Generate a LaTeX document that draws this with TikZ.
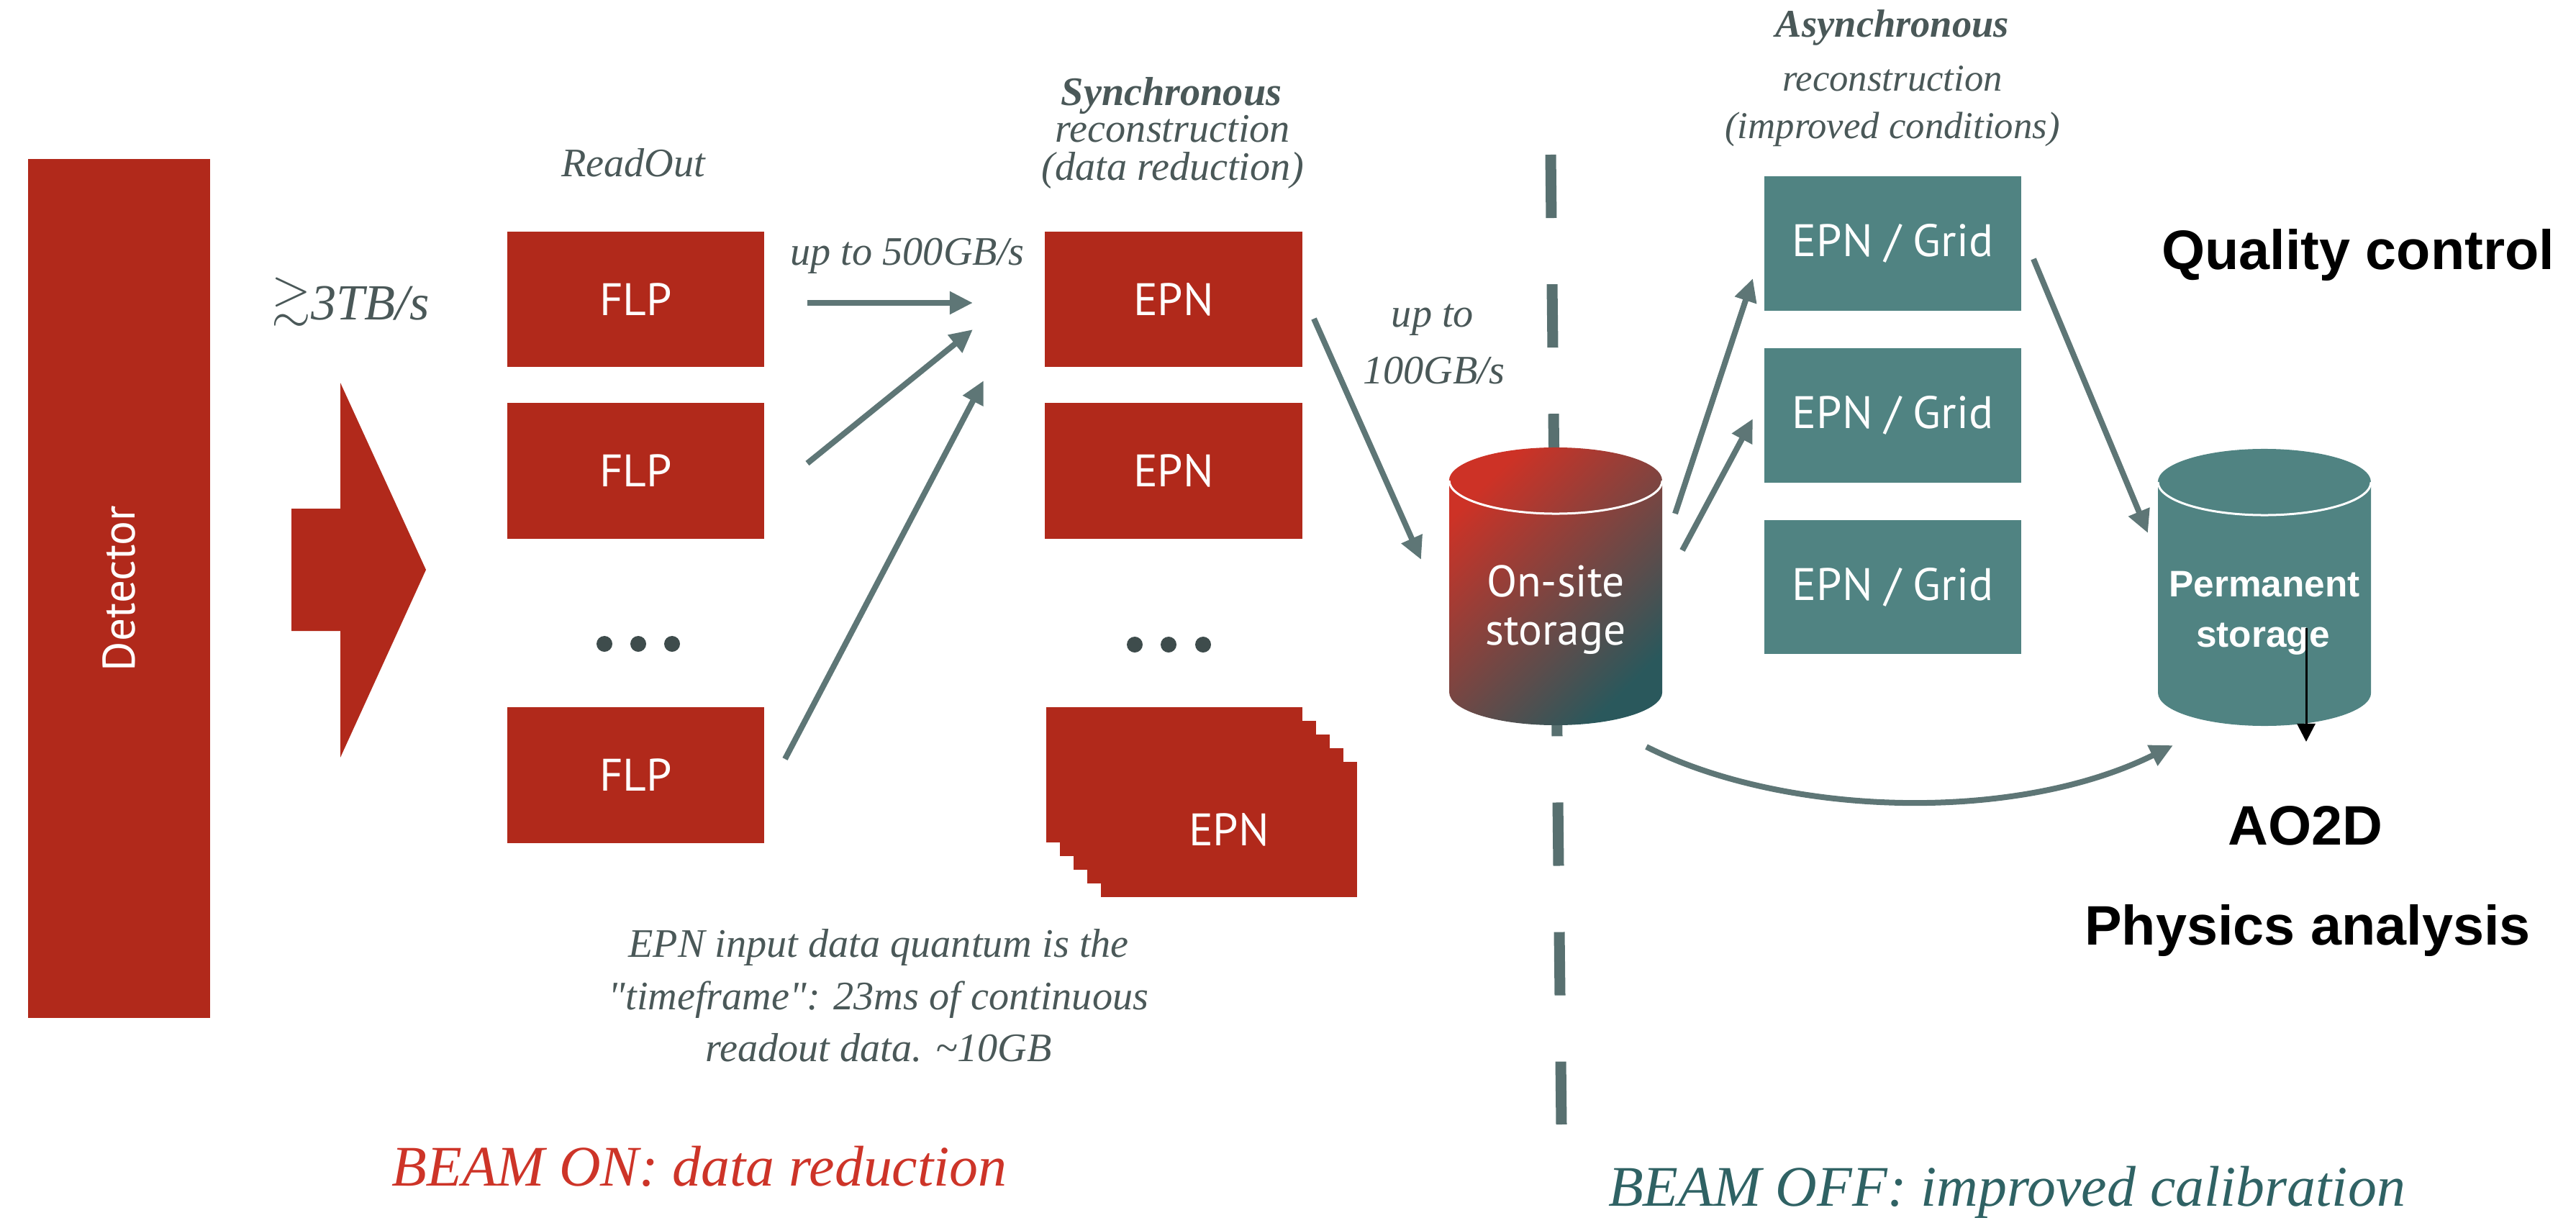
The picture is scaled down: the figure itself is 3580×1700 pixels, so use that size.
\documentclass[tikz,border=0pt]{standalone}
\usepackage{fontspec}
\usepackage{amssymb}
\setmainfont{Liberation Serif}
\newfontfamily\boxfont{PT Sans}
\newfontfamily\helv{Liberation Sans}
\usetikzlibrary{arrows.meta}
\definecolor{detred}{RGB}{177,41,27}
\definecolor{gridteal}{RGB}{80,131,130}
\definecolor{arrowgrey}{RGB}{94,118,118}
\definecolor{textgrey}{RGB}{74,88,88}
\definecolor{dotgrey}{RGB}{62,76,76}
\definecolor{dashgrey}{RGB}{88,112,112}
\definecolor{beamred}{RGB}{205,52,40}
\definecolor{beamteal}{RGB}{47,98,100}
\definecolor{cylred}{RGB}{205,50,38}
\definecolor{cylteal}{RGB}{42,88,92}
\begin{document}
\begin{tikzpicture}[x=0.01cm,y=-0.01cm,
  redbox/.style={fill=detred, draw=none, minimum width=3.57cm, minimum height=1.88cm, inner sep=0pt, text=white, font=\boxfont\fontsize{18}{20}\selectfont},
  tealbox/.style={fill=gridteal, draw=none, minimum width=3.57cm, minimum height=1.86cm, inner sep=0pt, text=white, font=\boxfont\fontsize{18}{20}\selectfont},
  boxlabel/.style={text=white, inner sep=0pt, font=\boxfont\fontsize{18}{20}\selectfont},
  flow/.style={draw=arrowgrey, line width=0.08cm, -{Triangle[length=0.32cm,width=0.3cm]}},
  note/.style={text=textgrey, inner sep=0pt, anchor=base, font=\itshape\fontsize{16}{19}\selectfont},
  anote/.style={text=textgrey, inner sep=0pt, anchor=base, font=\itshape\fontsize{15}{18}\selectfont},
  dotnode/.style={circle, fill=dotgrey, minimum size=0.22cm, inner sep=0pt},
  bigtext/.style={text=black, inner sep=0pt, anchor=base, font=\helv\bfseries\fontsize{22}{26}\selectfont},
  cyltext/.style={text=white, inner sep=0pt, anchor=base}
]
\useasboundingbox (0,0) rectangle (3580,1700);

% Detector
\node[fill=detred, minimum width=2.53cm, minimum height=11.94cm, inner sep=0pt] (det) at (165.5,818) {};
\node[boxlabel, rotate=90] (dettext) at (det.center) {Detector};

% big arrow
\fill[detred] (405,707) -- (473,707) -- (473,532) -- (592,792) -- (473,1053) -- (473,877) -- (405,877) -- cycle;
\node[text=textgrey, inner sep=0pt, font=\fontsize{20}{24}\selectfont] (rate) at (487,420) {\raisebox{2pt}{$\gtrsim$}\textit{3TB/s}};

% ReadOut column
\node[note] (readout) at (880,246) {ReadOut};
\node[redbox] (flp1) at (883.5,416) {FLP};
\node[redbox] (flp2) at (883.5,654.5) {FLP};
\node[dotnode] (fd1) at (840,895) {};
\node[dotnode] (fd2) at (887,895) {};
\node[dotnode] (fd3) at (934,895) {};
\node[redbox] (flp4) at (883.5,1077.5) {FLP};

% Synchronous column
\node[note, font=\itshape\bfseries\fontsize{16}{19}\selectfont] (sync) at (1628,147) {Synchronous};
\node[note] (sync2) at (1630,198) {reconstruction};
\node[note] (sync3) at (1630,251) {(data reduction)};
\node[redbox] (epn1) at (1631,416) {EPN};
\node[redbox] (epn2) at (1631,654.5) {EPN};
\node[dotnode] (ed1) at (1577,896) {};
\node[dotnode] (ed2) at (1624,896) {};
\node[dotnode] (ed3) at (1672,896) {};
\foreach \i in {0,...,4}
  \fill[detred] ({1454+19*\i},{983+19*\i}) rectangle ++(356,188);
\node[boxlabel] (epn4) at (1708,1153) {EPN};

% rate labels
\node[note] (r500) at (1261,369) {up to 500GB/s};
\node[note] (r100a) at (1991,455) {up to};
\node[note] (r100b) at (1993,533) {100GB/s};

% note text
\node[note] (q1) at (1221,1330) {EPN input data quantum is the};
\node[note] (q2) at (1221,1403) {\textquotedbl timeframe\textquotedbl: 23ms of continuous};
\node[note] (q3) at (1221,1475) {readout data. \textasciitilde10GB};

% dashed separator
\draw[dashgrey, line width=0.15cm, dash pattern=on 0.88cm off 0.92cm] (2155,215) -- (2170,1563);

% On-site storage cylinder
\shade[top color=cylred, bottom color=cylteal, shading angle=45]
  (2014,668) -- (2014,962) arc[start angle=180, end angle=360, x radius=1.48cm, y radius=0.46cm]
  -- (2310,668) arc[start angle=0, end angle=180, x radius=1.48cm, y radius=0.46cm] -- cycle;
\draw[white, line width=0.03cm] (2014,668) arc[start angle=180, end angle=360, x radius=1.48cm, y radius=0.46cm];
\node[cyltext, font=\boxfont\fontsize{17.5}{20}\selectfont] (onsite) at (2162,829) {On-site};
\node[cyltext, font=\boxfont\fontsize{17.5}{20}\selectfont] (onsite2) at (2162,896) {storage};

% Asynchronous column
\node[anote, font=\itshape\bfseries\fontsize{15.5}{18}\selectfont] (async) at (2630,52) {Asynchronous};
\node[anote] (async2) at (2630,127) {reconstruction};
\node[anote] (async3) at (2630,193) {(improved conditions)};
\node[tealbox] (g1) at (2630.5,338.5) {EPN / Grid};
\node[tealbox] (g2) at (2630.5,577.5) {EPN / Grid};
\node[tealbox] (g3) at (2630.5,816) {EPN / Grid};

% Permanent storage cylinder
\fill[gridteal]
  (2999,670) -- (2999,963) arc[start angle=180, end angle=360, x radius=1.48cm, y radius=0.46cm]
  -- (3295,670) arc[start angle=0, end angle=180, x radius=1.48cm, y radius=0.46cm] -- cycle;
\draw[white, line width=0.03cm] (2999,670) arc[start angle=180, end angle=360, x radius=1.48cm, y radius=0.46cm];
\node[cyltext, font=\helv\bfseries\fontsize{14.6}{18}\selectfont] (perm) at (3147,829) {Permanent};
\node[cyltext, font=\helv\bfseries\fontsize{14.6}{18}\selectfont] (perm2) at (3145,899) {storage};

% right-hand labels
\node[bigtext] (qc) at (3277,375) {Quality control};
\node[bigtext] (ao2d) at (3204,1174) {AO2D};
\node[bigtext] (phys) at (3207,1313) {Physics analysis};

% connector end points
\coordinate (s1) at (1122,421);  \coordinate (e1) at (1352,421);
\coordinate (s2) at (1122,644);  \coordinate (e2) at (1352,458);
\coordinate (s3) at (1091,1055); \coordinate (e3) at (1367,529);
\coordinate (s4) at (1826,443);  \coordinate (e4) at (1975,778);
\coordinate (s5) at (2328,714);  \coordinate (e5) at (2436,387);
\coordinate (s6) at (2338,765);  \coordinate (e6) at (2436,582);
\coordinate (s7) at (2826,360);  \coordinate (e7) at (2985,741);
\coordinate (s8) at (2288,1038); \coordinate (e8) at (3020,1036);
\coordinate (s9) at (3205,873);  \coordinate (e9) at (3205,1031);

\draw[flow] (s1) -- (e1);
\draw[flow] (s2) -- (e2);
\draw[flow] (s3) -- (e3);
\draw[flow] (s4) -- (e4);
\draw[flow] (s5) -- (e5);
\draw[flow] (s6) -- (e6);
\draw[flow] (s7) -- (e7);
\draw[flow] (s8) .. controls (2480,1135) and (2800,1145) .. (e8);
\draw[black, line width=0.03cm, -{Triangle[length=0.25cm,width=0.25cm]}] (s9) -- (e9);

% bottom titles
\node[inner sep=0pt, anchor=base, text=beamred, font=\itshape\fontsize{22.7}{26}\selectfont] (beamon) at (972,1648) {BEAM ON: data reduction};
\node[inner sep=0pt, anchor=base, text=beamteal, font=\itshape\fontsize{22.7}{26}\selectfont] (beamoff) at (2789,1676) {BEAM OFF: improved calibration};
\end{tikzpicture}
\end{document}
